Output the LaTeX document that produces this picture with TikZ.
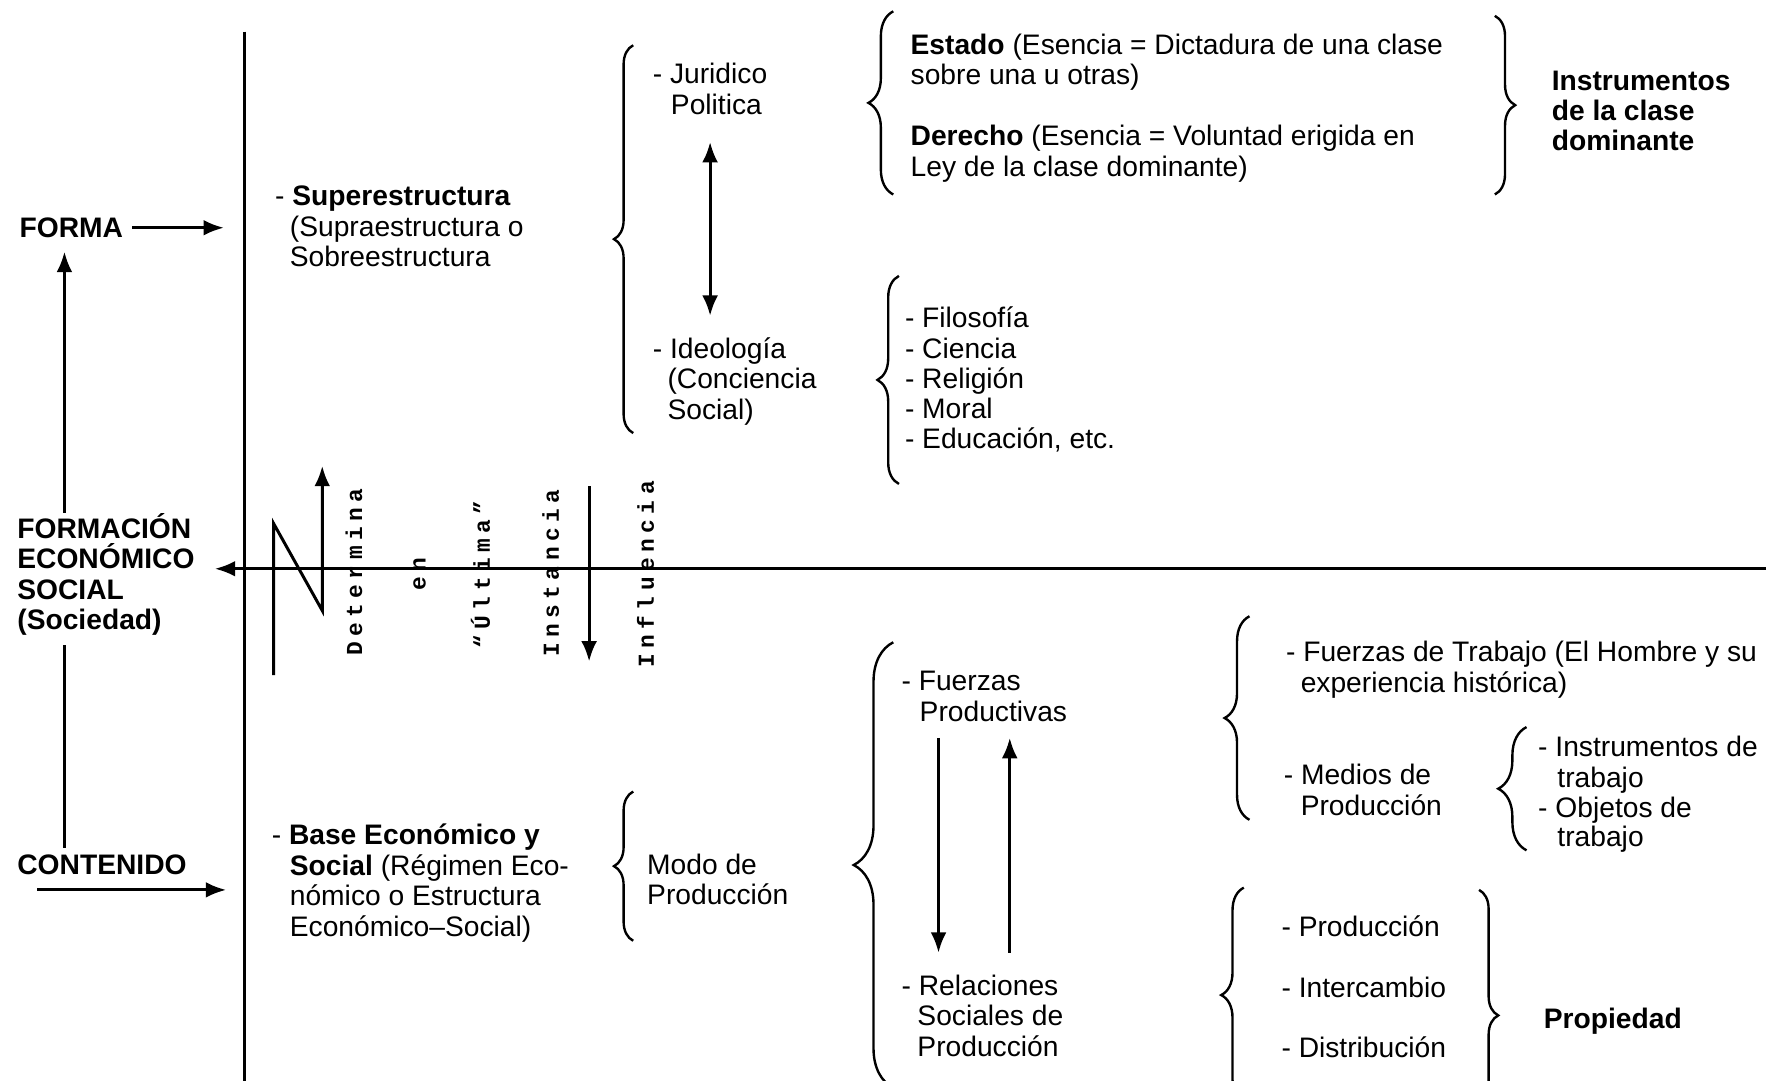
\documentclass[tikz,border=0pt]{standalone}
\usepackage{fontspec}
\setmainfont{Liberation Sans}
\newfontfamily\vmono[LetterSpace=24]{Liberation Mono}
\usetikzlibrary{arrows.meta,decorations.pathreplacing}
\begin{document}
\begin{tikzpicture}[x=0.02cm,y=-0.02cm,
  txt/.style={anchor=base west, inner sep=0pt, font=\fontsize{14.2pt}{15.4pt}\selectfont},
  vtxt/.style={rotate=90, anchor=center, inner sep=0pt, font=\vmono\bfseries\fontsize{11.5pt}{12pt}\selectfont},
  ln/.style={line width=1.5pt},
  arr/.style={line width=1.5pt, -{Latex[length=0.36cm,width=0.28cm]}},
  darr/.style={line width=1.5pt, {Latex[length=0.36cm,width=0.28cm]}-{Latex[length=0.36cm,width=0.28cm]}},
  brc/.style={line width=1.2pt, decorate, decoration={brace, amplitude=#1}},
]
\fill[white] (0,0) rectangle (1568,956);
\useasboundingbox (0,0) rectangle (1568,956);
\clip (0,0) rectangle (1568,956);

% ---------- left column ----------
\node[txt] (forma) at (17,210) {\textbf{FORMA}};
\node[txt] (fes1) at (15,476) {\textbf{FORMACIÓN}};
\node[txt] (fes2) at (15,503) {\textbf{ECONÓMICO}};
\node[txt] (fes3) at (15,530) {\textbf{SOCIAL}};
\node[txt] (fes4) at (15,557) {\textbf{(Sociedad)}};
\node[txt] (cont) at (15,773) {\textbf{CONTENIDO}};

% ---------- superestructura ----------
\node[txt] (sup1) at (243,182) {- \textbf{Superestructura}};
\node[txt] (sup2) at (256,209) {(Supraestructura o};
\node[txt] (sup3) at (256,236) {Sobreestructura};

\node[txt] (jur1) at (577,74) {- Juridico};
\node[txt] (jur2) at (593,101) {Politica};
\node[txt] (ide1) at (577,317) {- Ideología};
\node[txt] (ide2) at (590,344) {(Conciencia};
\node[txt] (ide3) at (590,371) {Social)};

\node[txt] (est1) at (805,48) {\textbf{Estado} (Esencia = Dictadura de una clase};
\node[txt] (est2) at (805,75) {sobre una u otras)};
\node[txt] (der1) at (805,129) {\textbf{Derecho} (Esencia = Voluntad erigida en};
\node[txt] (der2) at (805,156) {Ley de la clase dominante)};
\node[txt] (ins1) at (1372,80) {\textbf{Instrumentos}};
\node[txt] (ins2) at (1372,107) {\textbf{de la clase}};
\node[txt] (ins3) at (1372,133) {\textbf{dominante}};

\node[txt] (fil1) at (800,290) {- Filosofía};
\node[txt] (fil2) at (800,317) {- Ciencia};
\node[txt] (fil3) at (800,344) {- Religión};
\node[txt] (fil4) at (800,370) {- Moral};
\node[txt] (fil5) at (800,397) {- Educación, etc.};

% ---------- base ----------
\node[txt] (bas1) at (240,747) {- \textbf{Base Económico y}};
\node[txt] (bas2) at (256,774) {\textbf{Social} (Régimen Eco-};
\node[txt] (bas3) at (256,801) {nómico o Estructura};
\node[txt] (bas4) at (256,828) {Económico–Social)};

\node[txt] (modo1) at (572,773) {Modo de};
\node[txt] (modo2) at (572,800) {Producción};

\node[txt] (fp1) at (797,611) {- Fuerzas};
\node[txt] (fp2) at (813,638) {Productivas};
\node[txt] (rel1) at (797,880) {- Relaciones};
\node[txt] (rel2) at (811,907) {Sociales de};
\node[txt] (rel3) at (811,934) {Producción};

\node[txt] (ft1) at (1137,585) {- Fuerzas de Trabajo (El Hombre y su};
\node[txt] (ft2) at (1150,612) {experiencia histórica)};
\node[txt] (med1) at (1135,694) {- Medios de};
\node[txt] (med2) at (1150,721) {Producción};
\node[txt] (it1) at (1360,669) {- Instrumentos de};
\node[txt] (it2) at (1377,696) {trabajo};
\node[txt] (ob1) at (1360,723) {- Objetos de};
\node[txt] (ob2) at (1377,749) {trabajo};

\node[txt] (pr1) at (1133,828) {- Producción};
\node[txt] (pr2) at (1133,882) {- Intercambio};
\node[txt] (pr3) at (1133,935) {- Distribución};
\node[txt] (prop) at (1365,910) {\textbf{Propiedad}};

% ---------- vertical texts ----------
\node[vtxt] (vdet) at (313,506) {Determina};
\node[vtxt] (ven) at (371,508) {en};
\node[vtxt] (vult) at (425,508) {“Última”};
\node[vtxt] (vins) at (487,507) {Instancia};
\node[vtxt] (vinf) at (571,508) {Influencia};

% ---------- main axes ----------
\coordinate (vt) at (216,28);
\coordinate (vb) at (216,960);
\draw[ln] (vt) -- (vb);
\coordinate (hR) at (1562,503);
\coordinate (hL) at (190,503);
\draw[arr] (hR) -- (hL);

% ---------- left arrows ----------
\coordinate (fa) at (198,204);
\draw[arr] ([xshift=0.16cm]forma.east) -- (forma.east -| fa);
\coordinate (ux) at (57,0);
\draw[arr, shorten >=0.24cm] (fes1.north -| ux) -- (forma.south -| ux);
\draw[ln, shorten <=0.16cm, shorten >=0.1cm] (fes4.south -| ux) -- (cont.north -| ux);
\coordinate (ca) at (33,787);
\coordinate (cb) at (200,787);
\draw[arr] (ca) -- (cb);

% ---------- N arrow and down arrow ----------
\coordinate (n1) at (242,597);
\coordinate (n2) at (242,463);
\coordinate (n3) at (285,540);
\coordinate (n4) at (285,412);
\draw[arr] (n1) -- (n2) -- (n3) -- (n4);
\coordinate (d1) at (521,430);
\coordinate (d2) at (521,585);
\draw[arr] (d1) -- (d2);

% ---------- double arrow ----------
\coordinate (dax) at (628,0);
\draw[darr, shorten <=0.48cm, shorten >=0.38cm] (jur2.south -| dax) -- (ide1.north -| dax);

% ---------- fuerzas / relaciones arrows ----------
\coordinate (fx1) at (830,0);
\coordinate (fx2) at (893,0);
\draw[arr, shorten <=0.28cm, shorten >=0.38cm] (fp2.south -| fx1) -- (rel1.north -| fx1);
\draw[arr, shorten <=0.38cm, shorten >=0.28cm] (rel1.north -| fx2) -- (fp2.south -| fx2);

% ---------- braces ----------
\draw[brc=0.34cm] (560,383) -- (560,40);
\draw[brc=0.44cm] (790,172) -- (790,10);
\draw[brc=0.36cm] (1322,14) -- (1322,172);
\draw[brc=0.38cm] (795,428) -- (795,244);
\draw[brc=0.34cm] (560,832) -- (560,700);
\draw[brc=0.7cm] (790,962) -- (790,568);
\draw[brc=0.44cm] (1105,725) -- (1105,545);
\draw[brc=0.5cm] (1350,752) -- (1350,643);
\draw[brc=0.4cm] (1100,975) -- (1100,785);
\draw[brc=0.34cm] (1308,787) -- (1308,1009);
\end{tikzpicture}
\end{document}
